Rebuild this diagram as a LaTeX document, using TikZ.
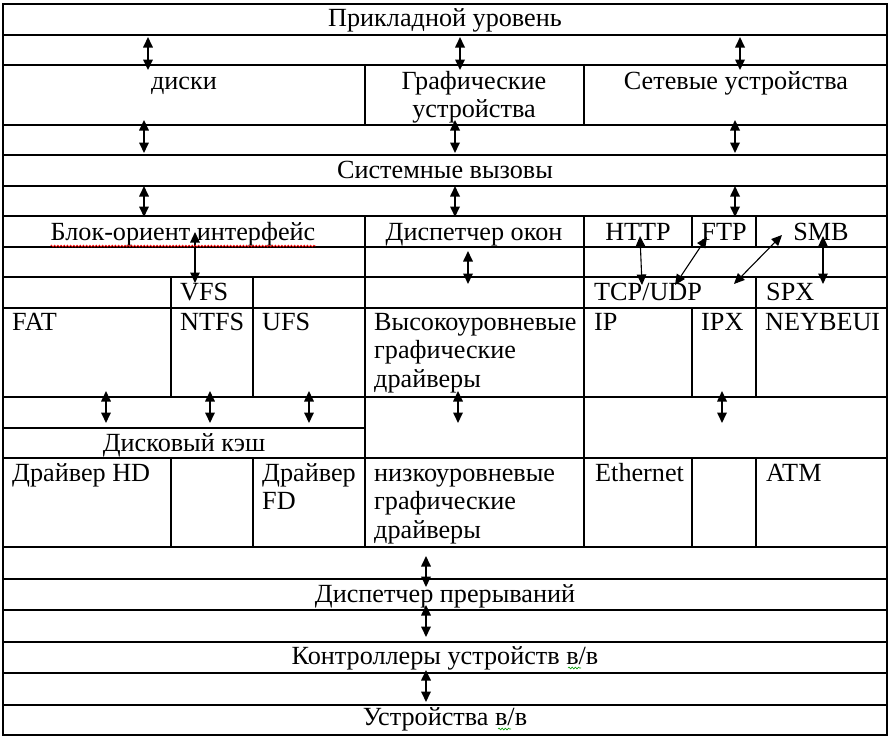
\documentclass[tikz,border=0pt]{standalone}
\usepackage{fontspec}
\setmainfont{Liberation Serif}
\usetikzlibrary{arrows.meta,decorations.pathmorphing}

\begin{document}
\begin{tikzpicture}[x=1pt,y=-1pt]
\tikzset{cell/.style = {inner sep=0pt,anchor=base,align=center,font=\fontsize{26.2}{28.5}\selectfont}}
\tikzset{lcell/.style = {cell,anchor=base west,align=left}}
\tikzset{grid/.style = {line width=1.2pt}}
\tikzset{edge/.style = {<->,line width=1.7pt,> = {Triangle[length=10.5pt,width=9.5pt]}}}
\tikzset{thin edge/.style = {edge,line width=1.1pt}}
\tikzset{spell/.style = {decorate,decoration={snake,amplitude=0.9pt,segment length=3.2pt},line width=0.6pt}}
\useasboundingbox (0,0) rectangle (893,736);
% table
\draw[grid] (3,4) rectangle (887,735);
\draw[grid] (3,35) -- (887,35) (3,65) -- (887,65) (3,125) -- (887,125)
  (3,155) -- (887,155) (3,186) -- (887,186) (3,216) -- (887,216)
  (3,247) -- (887,247) (3,277) -- (887,277) (3,308) -- (887,308)
  (3,397) -- (887,397) (3,428) -- (365,428) (3,458) -- (887,458)
  (3,547) -- (887,547) (3,579) -- (887,579) (3,610) -- (887,610)
  (3,642) -- (887,642) (3,673) -- (887,673) (3,705) -- (887,705);
\draw[grid] (365,65) -- (365,125) (584,65) -- (584,125)
  (365,216) -- (365,547) (584,216) -- (584,547)
  (171,277) -- (171,397) (253,277) -- (253,397)
  (171,458) -- (171,547) (253,458) -- (253,547)
  (692,216) -- (692,247) (692,308) -- (692,397) (692,458) -- (692,547)
  (756,216) -- (756,247) (756,277) -- (756,397) (756,458) -- (756,547);
% texts (multi-line nodes sit on the baseline of their last line)
\node[cell] (app) at (445,27) {Прикладной уровень};
\node[cell] (disk) at (184,89) {диски};
\node[cell] (gfx) at (474,117.5) {Графические\\устройства};
\node[cell] (net) at (736,89) {Сетевые устройства};
\node[cell] (sys) at (445,178) {Системные вызовы};
\node[cell] (blk) at (183,240) {Блок-ориент интерфейс};
\node[cell] (wm) at (474,240) {Диспетчер окон};
\node[cell] (http) at (638,240) {HTTP};
\node[cell] (ftp) at (724,240) {FTP};
\node[cell] (smb) at (821,240) {SMB};
\node[lcell] (vfs) at (180,300) {VFS};
\node[lcell] (tcp) at (594,300) {TCP/UDP};
\node[lcell] (spx) at (766,300) {SPX};
\node[lcell] (fat) at (12,330) {FAT};
\node[lcell] (ntfs) at (180,330) {NTFS};
\node[lcell] (ufs) at (262,330) {UFS};
\node[lcell] (hgd) at (374,387) {Высокоуровневые\\графические\\драйверы};
\node[lcell] (ip) at (594,330) {IP};
\node[lcell] (ipx) at (701,330) {IPX};
\node[lcell] (nbi) at (765,330) {NEYBEUI};
\node[cell] (cache) at (184,451) {Дисковый кэш};
\node[lcell] (hd) at (12,481) {Драйвер HD};
\node[lcell] (fd) at (262,509.5) {Драйвер\\FD};
\node[lcell] (lgd) at (374,538) {низкоуровневые\\графические\\драйверы};
\node[lcell] (eth) at (595,481) {Ethernet};
\node[lcell] (atm) at (766,481) {ATM};
\node[cell] (irq) at (445,602) {Диспетчер прерываний};
\node[cell] (ctrl) at (445,664) {Контроллеры устройств в/в};
\node[cell] (dev) at (445,725) {Устройства в/в};
% arrow ends
\coordinate (a1) at (148,37);  \coordinate (b1) at (148,70);
\coordinate (a2) at (460,37);  \coordinate (b2) at (460,70);
\coordinate (a3) at (740,37);  \coordinate (b3) at (740,70);
\coordinate (a4) at (144,120); \coordinate (b4) at (144,153);
\coordinate (a5) at (455,120); \coordinate (b5) at (455,153);
\coordinate (a6) at (735,120); \coordinate (b6) at (735,153);
\coordinate (a7) at (144,186); \coordinate (b7) at (144,217);
\coordinate (a8) at (455,186); \coordinate (b8) at (455,217);
\coordinate (a9) at (735,186); \coordinate (b9) at (735,217);
\coordinate (a10) at (195,232); \coordinate (b10) at (195,283);
\coordinate (a11) at (468,251); \coordinate (b11) at (468,284);
\coordinate (a12) at (640,236); \coordinate (b12) at (642,285);
\coordinate (a13) at (707,237); \coordinate (b13) at (675,285);
\coordinate (a14) at (782,235); \coordinate (b14) at (734,284);
\coordinate (a15) at (823,236); \coordinate (b15) at (823,284);
\coordinate (a16) at (106,391); \coordinate (b16) at (106,423);
\coordinate (a17) at (210,391); \coordinate (b17) at (210,423);
\coordinate (a18) at (309,391); \coordinate (b18) at (309,423);
\coordinate (a19) at (458,391); \coordinate (b19) at (458,423);
\coordinate (a20) at (722,391); \coordinate (b20) at (722,423);
\coordinate (a21) at (426,556); \coordinate (b21) at (426,587);
\coordinate (a22) at (426,605); \coordinate (b22) at (426,637);
\coordinate (a23) at (426,670); \coordinate (b23) at (426,702);
% edges
\draw[edge] (a1) -- (b1);
\draw[edge] (a2) -- (b2);
\draw[edge] (a3) -- (b3);
\draw[edge] (a4) -- (b4);
\draw[edge] (a5) -- (b5);
\draw[edge] (a6) -- (b6);
\draw[edge] (a7) -- (b7);
\draw[edge] (a8) -- (b8);
\draw[edge] (a9) -- (b9);
\draw[thin edge] (a10) -- (b10);
\draw[edge] (a11) -- (b11);
\draw[thin edge] (a12) -- (b12);
\draw[thin edge] (a13) -- (b13);
\draw[thin edge] (a14) -- (b14);
\draw[thin edge] (a15) -- (b15);
\draw[edge] (a16) -- (b16);
\draw[edge] (a17) -- (b17);
\draw[edge] (a18) -- (b18);
\draw[edge] (a19) -- (b19);
\draw[edge] (a20) -- (b20);
\draw[edge] (a21) -- (b21);
\draw[edge] (a22) -- (b22);
\draw[edge] (a23) -- (b23);
% spelling marks
\draw[spell,red] ([yshift=-6pt]blk.base west) -- ([yshift=-6pt]blk.base east);
\draw[spell,green!60!black] (568,668) -- (581,668);
\draw[spell,green!60!black] (498,729) -- (511,729);
\end{tikzpicture}
\end{document}
